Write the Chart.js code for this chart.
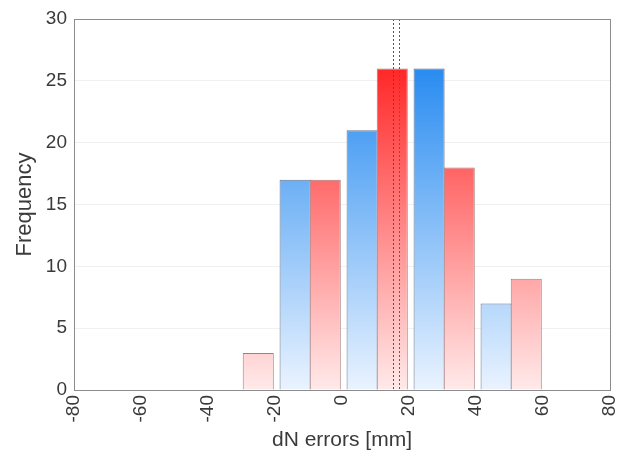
<!DOCTYPE html>
<html>
<head>
<meta charset="utf-8">
<script src="https://cdn.jsdelivr.net/npm/chart.js@4/dist/chart.umd.min.js"></script>
<style>
  html, body { margin: 0; padding: 0; background: #fff; }
  #wrap { width: 618px; height: 464px; }
</style>
</head>
<body>
<div id="wrap"><canvas id="myChart" width="618" height="464"></canvas></div>
<script>
'use strict';

// Data
let redCenters = [-25, -5, 15, 35, 55];
let redFreq = [3, 17, 26, 18, 9];
let blueCenters = [-14, 6, 26, 46];
let blueFreq = [17, 21, 26, 7];
let meanLines = [15.2, 17.1];
let meanColors = ['#9a3048', '#4a5f9a'];

let xTicks = [-80, -60, -40, -20, 0, 20, 40, 60, 80];
let yTicks = [0, 5, 10, 15, 20, 25, 30];

// Vertical gradient over the chart area
function makeGradient(topColor, bottomColor) {
  return function (context) {
    let chart = context.chart;
    let area = chart.chartArea;
    if (!area) {
      return topColor;
    }
    let g = chart.ctx.createLinearGradient(0, area.bottom, 0, area.top);
    g.addColorStop(0, bottomColor);
    g.addColorStop(1, topColor);
    return g;
  };
}

function toPoints(xs, ys) {
  let pts = [];
  for (let i = 0; i < xs.length; i++) {
    pts.push({ x: xs[i], y: ys[i] });
  }
  return pts;
}

// Frame around the plot and the dotted mean lines
let framePlugin = {
  id: 'frame',
  afterDatasetsDraw(chart) {
    let ctx = chart.ctx;
    let area = chart.chartArea;
    let xScale = chart.scales.x;
    ctx.save();
    ctx.lineWidth = 1;
    ctx.setLineDash([2, 2]);
    for (let i = 0; i < meanLines.length; i++) {
      let px = Math.round(xScale.getPixelForValue(meanLines[i])) + 0.5;
      ctx.strokeStyle = meanColors[i];
      ctx.beginPath();
      ctx.moveTo(px, area.top);
      ctx.lineTo(px, area.bottom);
      ctx.stroke();
    }
    ctx.setLineDash([]);
    ctx.strokeStyle = '#8c8c8c';
    ctx.strokeRect(Math.round(area.left) + 0.5, Math.round(area.top) + 0.5,
      Math.round(area.right - area.left), Math.round(area.bottom - area.top));
    ctx.restore();
  }
};

let ctx = document.getElementById('myChart').getContext('2d');
let myChart = new Chart(ctx, {
  type: 'bar',
  data: {
    datasets: [{
      label: 'red',
      data: toPoints(redCenters, redFreq),
      backgroundColor: makeGradient('#ff0a0a', '#ffeaea'),
      borderColor: '#a87a7a',
      borderWidth: 1,
      grouped: false,
      barPercentage: 1.03,
      categoryPercentage: 1
    },
    {
      label: 'blue',
      data: toPoints(blueCenters, blueFreq),
      backgroundColor: makeGradient('#0b7cee', '#eaf3ff'),
      borderColor: '#64748c',
      borderWidth: 1,
      grouped: false,
      barPercentage: 1.03,
      categoryPercentage: 1
    }]
  },
  options: {
    responsive: false,
    animation: false,
    events: [],
    layout: {
      padding: { top: 19, right: 8, left: 4, bottom: 4 }
    },
    plugins: {
      legend: { display: false },
      tooltip: { enabled: false }
    },
    scales: {
      x: {
        type: 'linear',
        offset: false,
        min: xTicks[0],
        max: xTicks[xTicks.length - 1],
        afterBuildTicks: (scale) => {
          scale.ticks = xTicks.map(v => ({ value: v }));
        },
        afterFit: (scale) => {
          scale.height = 70;
          scale.paddingLeft = 0;
          scale.paddingRight = 0;
        },
        grid: { display: false, drawTicks: false },
        border: { display: false },
        ticks: {
          minRotation: 90,
          maxRotation: 90,
          padding: 5,
          color: '#3a3a3a',
          font: { family: 'Liberation Sans', size: 19 }
        },
        title: {
          display: true,
          text: 'dN errors [mm]',
          color: '#3a3a3a',
          font: { family: 'Liberation Sans', size: 21 },
          padding: { top: 0, bottom: 7 }
        }
      },
      y: {
        min: yTicks[0],
        max: yTicks[yTicks.length - 1],
        afterBuildTicks: (scale) => {
          scale.ticks = yTicks.map(v => ({ value: v }));
        },
        afterFit: (scale) => {
          scale.width = 70;
        },
        grid: { color: '#f0f0f0', drawTicks: false },
        border: { display: false },
        ticks: {
          padding: 7,
          color: '#3a3a3a',
          font: { family: 'Liberation Sans', size: 19 }
        },
        title: {
          display: true,
          text: 'Frequency',
          color: '#3a3a3a',
          font: { family: 'Liberation Sans', size: 22 },
          padding: { top: 8, bottom: 0 }
        }
      }
    }
  },
  plugins: [framePlugin]
});
</script>
</body>
</html>
